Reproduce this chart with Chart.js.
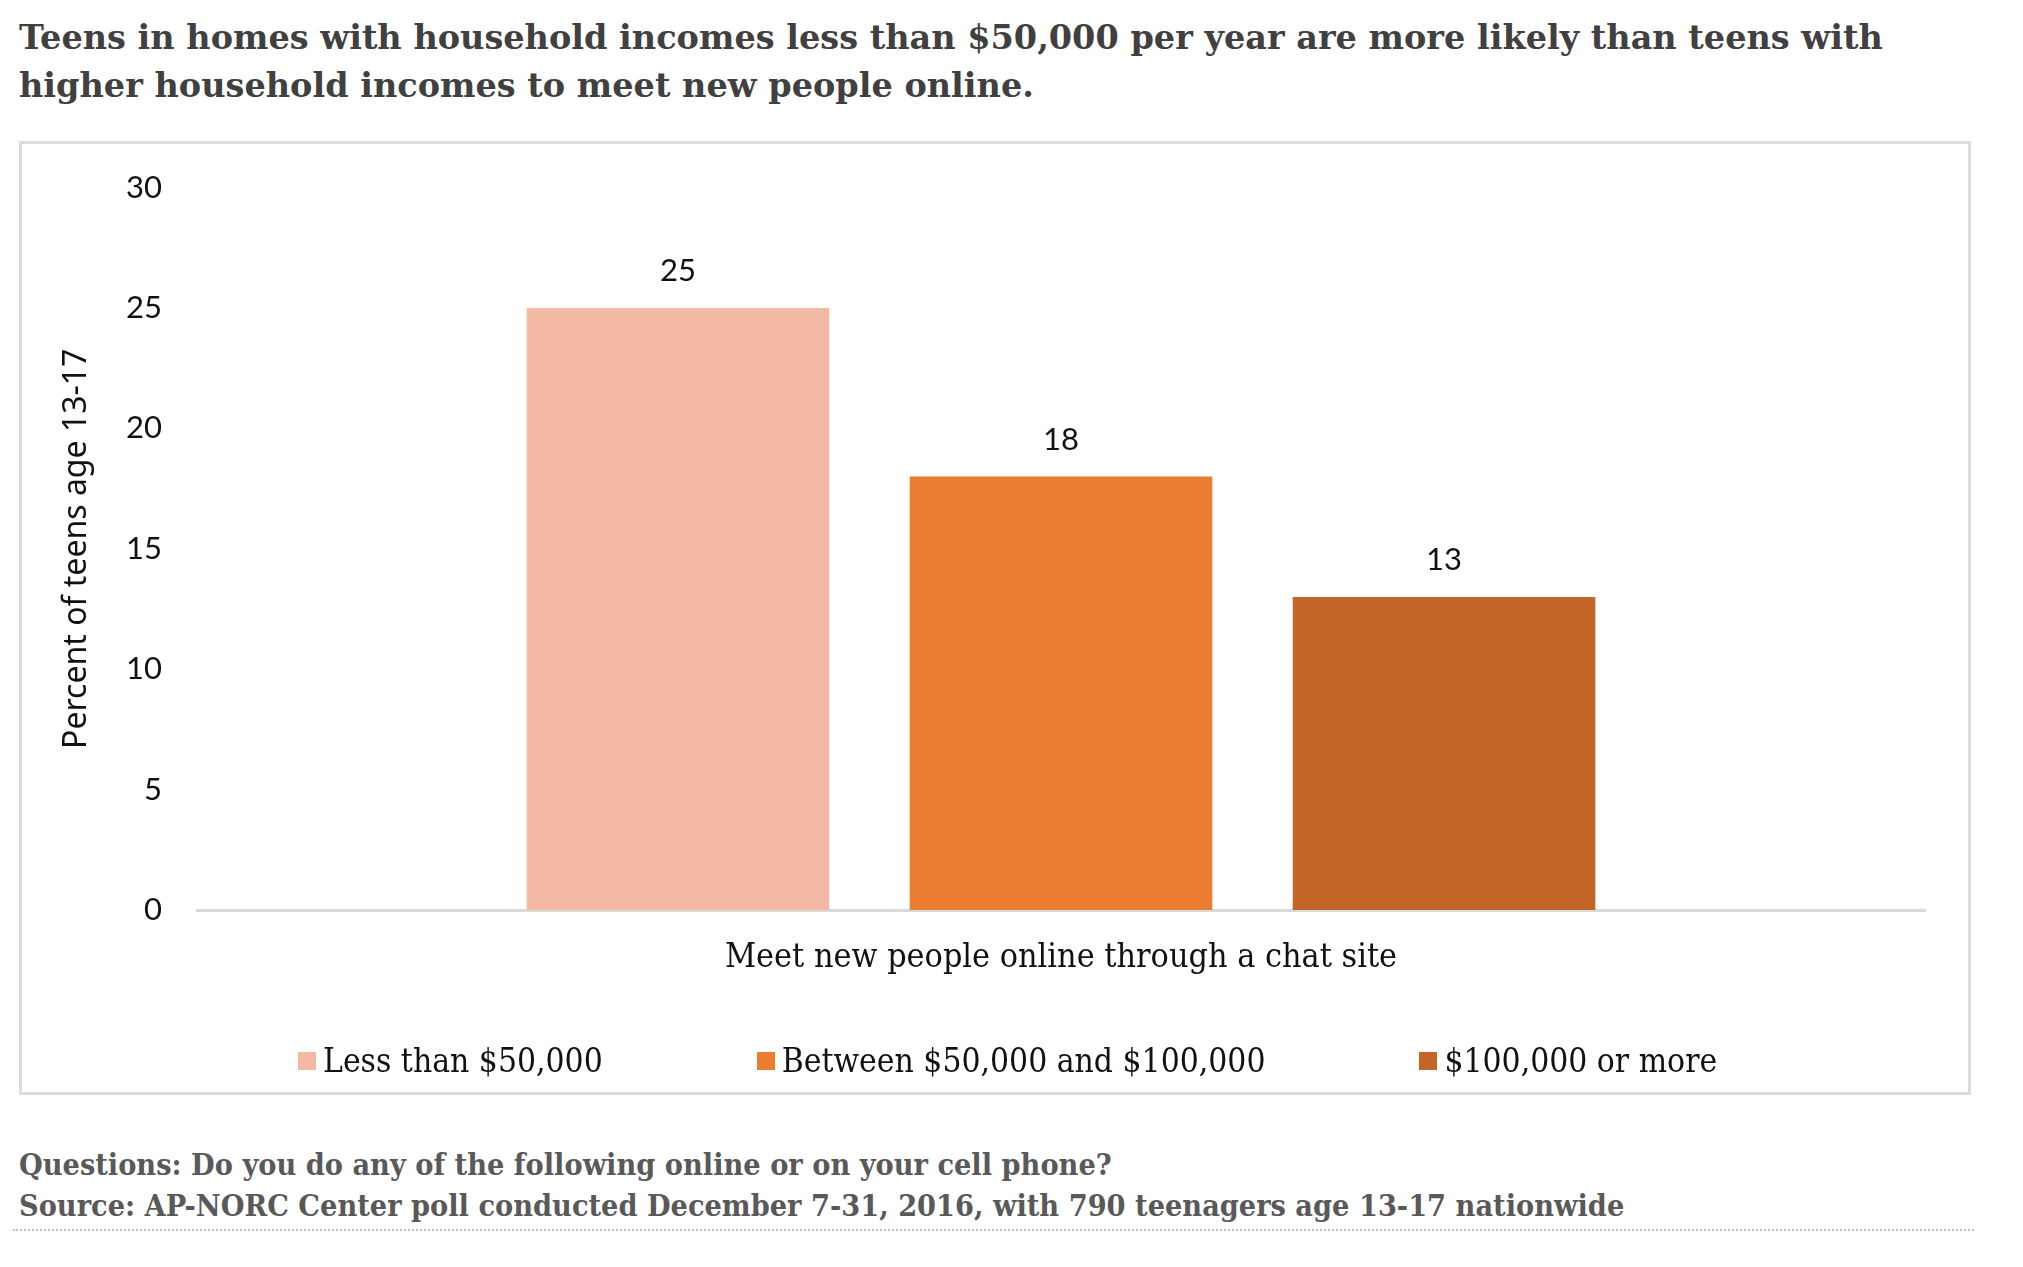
<!DOCTYPE html>
<html>
<head>
<meta charset="utf-8">
<script src="https://cdn.jsdelivr.net/npm/chart.js@4.4.1/dist/chart.umd.min.js"></script>
<style>
  body { margin: 0; background: #fff; width: 2023px; height: 1267px; position: relative; overflow: hidden; }
  #title { position: absolute; left: 19px; top: 14px; font: bold 33.5px "DejaVu Serif"; color: #404040; line-height: 48px; white-space: nowrap; }
  #box { position: absolute; left: 19px; top: 141px; width: 1946px; height: 948px; border: 3px solid #dcdcdc; }
  #box canvas { position: absolute; left: 0; top: 0; }
  #legend { position: absolute; left: 298px; top: 1042px; display: flex; gap: 154px; font: 33.3px "DejaVu Serif Condensed"; line-height: 38px; color: #111; }
  #legend .item { display: flex; align-items: center; }
  #legend .sw { width: 18px; height: 18px; margin-right: 7px; }
  #notes { position: absolute; left: 19px; top: 1144px; font: bold 30.3px "DejaVu Serif Condensed"; color: #595959; line-height: 41px; white-space: nowrap; }
  #dots { position: absolute; left: 13px; top: 1229px; width: 1961px; border-top: 2px dotted #c0c0c0; }
</style>
</head>
<body>
<div id="title">Teens in homes with household incomes less than $50,000 per year are more likely than teens with<br>higher household incomes to meet new people online.</div>
<div id="box"><canvas id="chart" width="1946" height="948"></canvas></div>
<div id="legend"></div>
<div id="notes">Questions: Do you do any of the following online or on your cell phone?<br>Source: AP-NORC Center poll conducted December 7-31, 2016, with 790 teenagers age 13-17 nationwide</div>
<div id="dots"></div>
<script>
// Chart data
const categories = ["Meet new people online through a chat site"];
const groups = ["Less than $50,000", "Between $50,000 and $100,000", "$100,000 or more"];
const values = [25, 18, 13];
const colors = ["#f4b9a5", "#ea7d32", "#c46528"];
const yTicks = [0, 5, 10, 15, 20, 25, 30];

// Value labels above each bar
const barLabels = {
    id: "barLabels",
    afterDatasetsDraw(chart) {
        const ctx = chart.ctx;
        ctx.save();
        ctx.font = "31px Lato";
        ctx.fillStyle = "#111";
        ctx.textAlign = "center";
        ctx.textBaseline = "middle";
        chart.data.datasets.forEach((ds, i) => {
            chart.getDatasetMeta(i).data.forEach((bar, j) => {
                ctx.fillText(ds.data[j], bar.x, bar.y - 37);
            });
        });
        ctx.restore();
    }
};

const ctx = document.getElementById("chart").getContext("2d");
const chart = new Chart(ctx, {
    type: "bar",
    data: {
        labels: categories,
        datasets: groups.map((g, i) => ({
            label: g,
            data: [values[i]],
            backgroundColor: colors[i],
            categoryPercentage: 0.665,
            barPercentage: 0.79
        }))
    },
    options: {
        responsive: false,
        animation: false,
        layout: { padding: { top: 43.5, right: 43, left: 0, bottom: 0 } },
        plugins: {
            legend: { display: false },
            tooltip: { enabled: false }
        },
        scales: {
            x: {
                grid: { display: false, drawTicks: false },
                border: { color: "#d9d9d9", width: 3 },
                ticks: { font: { family: "DejaVu Serif Condensed", size: 33.8 }, color: "#111", padding: 28 },
                afterFit: (s) => { s.height = 182; }
            },
            y: {
                min: 0,
                max: 30,
                grid: { display: false, drawTicks: false },
                border: { display: false },
                afterBuildTicks: (s) => { s.ticks = yTicks.map(v => ({ value: v })); },
                ticks: { font: { family: "Lato", size: 31 }, color: "#111", padding: 35 },
                title: {
                    display: true,
                    text: "Percent of teens age 13-17",
                    font: { family: "Noto Sans", size: 32 },
                    color: "#111",
                    padding: { top: 36 }
                },
                afterFit: (s) => {
                    s.width = 175;
                    // tick padding should only push labels sideways
                    s.paddingTop = 0;
                    s.paddingBottom = 0;
                }
            }
        }
    },
    plugins: [barLabels]
});

// Legend
const legend = document.getElementById("legend");
groups.forEach((g, i) => {
    const item = document.createElement("div");
    item.className = "item";
    item.innerHTML = `<span class="sw" style="background:${colors[i]}"></span><span>${g}</span>`;
    legend.appendChild(item);
});
</script>
</body>
</html>
